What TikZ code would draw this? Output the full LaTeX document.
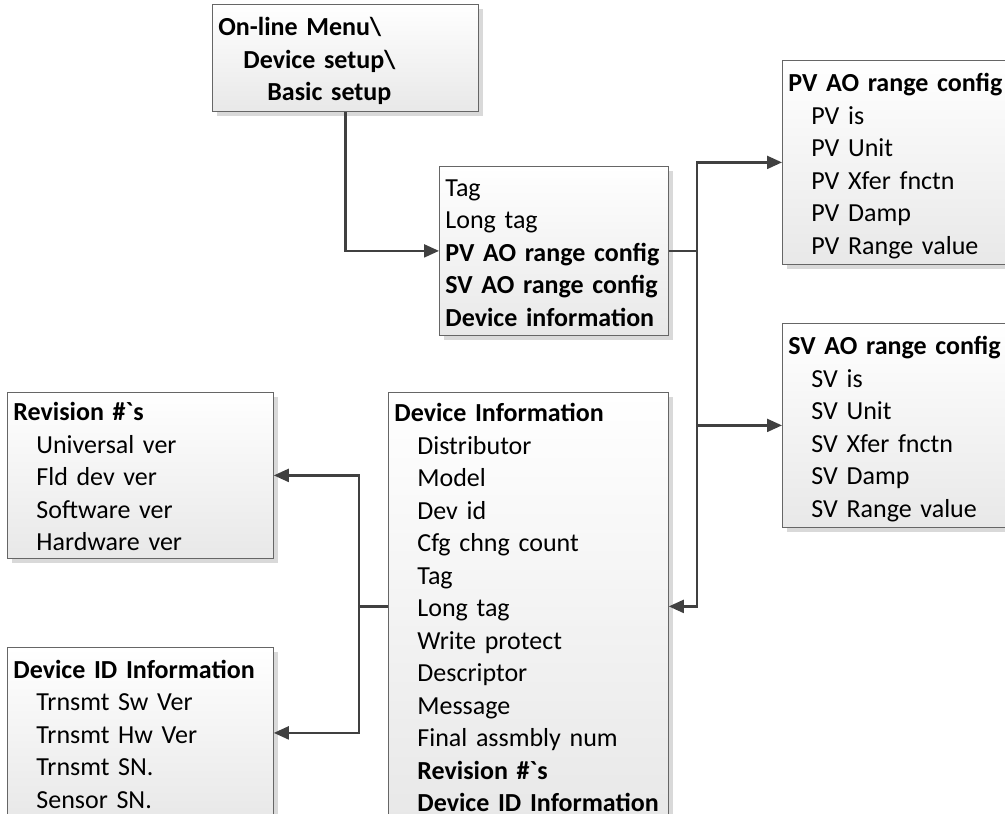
\documentclass[tikz,border=0pt]{standalone}
\usepackage{fontspec}
\setmainfont{Carlito}[Ligatures=TeXOff]
\usetikzlibrary{arrows.meta,shadows}

\tikzset{
  box/.style={draw=black!60, line width=0.8pt, anchor=north west, align=left,
    inner xsep=6pt, inner ysep=0pt, top color=white, bottom color=black!9,
    general shadow={fill=black!15, shadow xshift=5pt, shadow yshift=-5pt},
    font=\fontsize{26}{32.5}\selectfont},
  line/.style={draw=black!75, line width=2.2pt},
  conn/.style={line, -{Triangle[length=15pt,width=13pt]}},
}
\newcommand\ind{\hspace*{23pt}}
\newcommand\boxlines[1]{\noindent\raisebox{-4pt}[\height][\depth]{\begin{tabular}{@{}l@{}}#1\end{tabular}}}

\begin{document}
\begin{tikzpicture}[x=1pt,y=-1pt]
  \useasboundingbox (0,0) rectangle (1005,814);
  % boxes
  \node[box, minimum width=266, text width=254, minimum height=107] (menu) at (212,4)
    {\boxlines{\textbf{On-line Menu\textbackslash}\\
     \hspace*{25pt}\textbf{Device setup\textbackslash}\\
     \hspace*{49pt}\textbf{Basic setup}}};
  \node[box, minimum width=229, text width=217, minimum height=169] (sub) at (439,166)
    {\boxlines{Tag\\Long tag\\\textbf{PV AO range config}\\\textbf{SV AO range config}\\\textbf{Device information}}};
  \node[box, minimum width=266, text width=254, minimum height=204] (pv) at (782,60)
    {\boxlines{\textbf{PV AO range config}\\\ind PV is\\\ind PV Unit\\\ind PV Xfer fnctn\\\ind PV Damp\\\ind PV Range value}};
  \node[box, minimum width=266, text width=254, minimum height=204] (sv) at (782,323)
    {\boxlines{\textbf{SV AO range config}\\\ind SV is\\\ind SV Unit\\\ind SV Xfer fnctn\\\ind SV Damp\\\ind SV Range value}};
  \node[box, minimum width=280, text width=268, minimum height=428] (devinfo) at (388,392)
    {\boxlines{\textbf{Device Information}\\\ind Distributor\\\ind Model\\\ind Dev id\\\ind Cfg chng count\\
     \ind Tag\\\ind Long tag\\\ind Write protect\\\ind Descriptor\\\ind Message\\
     \ind Final assmbly num\\\ind\textbf{Revision \#`s}\\\ind\textbf{Device ID Information}}};
  \node[box, minimum width=266, text width=254, minimum height=166] (rev) at (7,392)
    {\boxlines{\textbf{Revision \#`s}\\\ind Universal ver\\\ind Fld dev ver\\\ind Software ver\\\ind Hardware ver}};
  \node[box, minimum width=266, text width=254, minimum height=171] (devid) at (7,647)
    {\boxlines{\textbf{Device ID Information}\\\ind Trnsmt Sw Ver\\\ind Trnsmt Hw Ver\\\ind Trnsmt SN.\\\ind Sensor SN.}};
  % connectors
  \coordinate (rbus) at (697,0);
  \coordinate (lbus) at (359,0);
  \draw[conn] (menu.south) |- (sub.west);
  \draw[line] (sub.east) -- (sub.east -| rbus);
  \draw[conn] (rbus |- devinfo.east) |- (pv.west);
  \draw[conn] (rbus |- pv.west) |- (devinfo.east);
  \draw[conn] (rbus |- sv.west) -- (sv.west);
  \draw[line] (devinfo.west) -- (devinfo.west -| lbus);
  \draw[conn] (lbus |- devid.east) |- (rev.east);
  \draw[conn] (lbus |- rev.east) |- (devid.east);
\end{tikzpicture}
\end{document}
